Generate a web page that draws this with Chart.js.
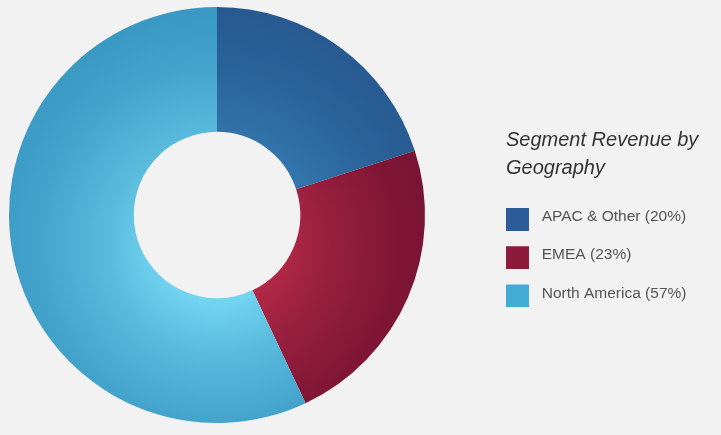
<!DOCTYPE html>
<html>
<head>
<meta charset="utf-8">
<script src="https://cdn.jsdelivr.net/npm/chart.js@4.4.1/dist/chart.umd.min.js"></script>
<style>
html, body { margin: 0; padding: 0; background: #f2f2f2; overflow: hidden; width: 721px; height: 435px; }
#wrap { position: absolute; left: -72px; top: 0; width: 793px; height: 435px; }
</style>
</head>
<body>
<div id="wrap"><canvas id="c"></canvas></div>
<script>
// ---- data ----
const categories = ['APAC & Other', 'EMEA', 'North America'];
const shares = [20, 23, 57];
const legendTitle = ['Segment Revenue by', 'Geography'];

// ---- styles ----
const legendColors = ['#2b5b98', '#8b1a3b', '#43acd4'];
const lightColors = ['#3f96cc', '#c8324e', '#84e6ff'];
const darkColors = ['#275990', '#741232', '#3898c2'];
const FONT = "'Liberation Sans', Arial, Helvetica, sans-serif";
const LEGEND_WIDTH = 215;

function hexToRgb(h) { const n = parseInt(h.slice(1), 16); return [(n >> 16) & 255, (n >> 8) & 255, n & 255]; }
function mix(a, b, t) {
  const A = hexToRgb(a), B = hexToRgb(b);
  return 'rgb(' + A.map((v, i) => Math.round(v + (B[i] - v) * t)).join(',') + ')';
}
const gradStops = [[0, 0], [0.25, 0.25], [0.45, 0.55], [0.75, 0.86], [1, 1]];

function sliceFill(ctx) {
  const chart = ctx.chart;
  const a = chart.chartArea;
  const i = ctx.dataIndex;
  if (!a || i === undefined) return legendColors[i || 0];
  const cx = (a.left + a.right) / 2, cy = (a.top + a.bottom) / 2;
  const R = Math.min(a.width, a.height) / 2;
  const gy = cy + R * 0.145;
  const g = chart.ctx.createRadialGradient(cx, gy, 0, cx, gy, R * 1.15);
  gradStops.forEach(([f, m]) => g.addColorStop(f, mix(lightColors[i], darkColors[i], m)));
  return g;
}

const boxImages = legendColors.map(c => {
  const cv = document.createElement('canvas');
  cv.width = 28; cv.height = 28;
  const x = cv.getContext('2d');
  x.fillStyle = c;
  x.fillRect(0, 5, 23, 23);
  return cv;
});

const legendWidthPlugin = {
  id: 'legendWidth',
  beforeInit(chart) {
    const origFit = chart.legend.fit;
    chart.legend.fit = function () {
      origFit.call(this);
      this.width = LEGEND_WIDTH;
    };
  }
};

new Chart(document.getElementById('c'), {
  type: 'doughnut',
  data: {
    labels: categories,
    datasets: [{
      data: shares,
      backgroundColor: sliceFill,
      borderWidth: 0,
      hoverOffset: 0
    }]
  },
  plugins: [legendWidthPlugin],
  options: {
    responsive: true,
    maintainAspectRatio: false,
    animation: false,
    cutout: '40%',
    layout: { padding: { left: 0, right: 0, top: 7, bottom: 12 } },
    plugins: {
      tooltip: { enabled: false },
      legend: {
        position: 'right',
        align: 'start',
        title: {
          display: true,
          text: legendTitle,
          position: 'start',
          color: '#333333',
          font: { family: FONT, size: 20, style: 'italic', lineHeight: 1.4 },
          padding: { top: 123.8, bottom: 50.4 }
        },
        labels: {
          usePointStyle: true,
          pointStyleWidth: 28,
          padding: 0,
          color: '#555555',
          font: { family: FONT, size: 15.5, lineHeight: 2.4677 },
          generateLabels: (chart) => chart.data.labels.map((lab, i) => ({
            text: [lab + ' (' + chart.data.datasets[0].data[i] + '%)'],
            fillStyle: legendColors[i],
            strokeStyle: legendColors[i],
            lineWidth: 0,
            pointStyle: boxImages[i],
            fontColor: '#555555',
            hidden: !chart.getDataVisibility(i),
            index: i
          }))
        }
      }
    }
  }
});
</script>
</body>
</html>
